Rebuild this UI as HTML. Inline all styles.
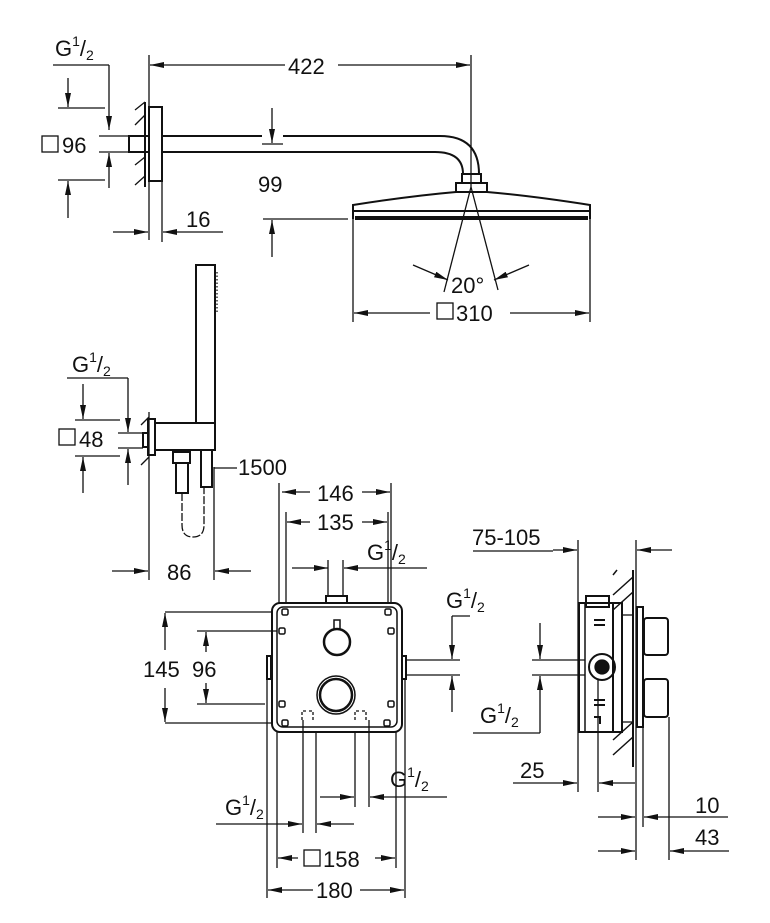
<!DOCTYPE html>
<html><head><meta charset="utf-8"><style>
html,body{margin:0;padding:0;background:#fff;}
svg{display:block;}
text{font-family:"Liberation Sans",sans-serif;font-size:22px;fill:#111;}
.s{font-size:14px;}
</style></head><body>
<svg width="770" height="923" viewBox="0 0 770 923" xmlns="http://www.w3.org/2000/svg">
<defs>
<marker id="a" viewBox="0 0 14 6" refX="14" refY="3" markerWidth="14" markerHeight="6" markerUnits="userSpaceOnUse" orient="auto"><path d="M0,0 L14,3 L0,6 z" fill="#111"/></marker>
</defs>
<g stroke="#111" fill="none" stroke-width="1.3">
<!-- ===== Head shower ===== -->
<line x1="53" y1="65" x2="109" y2="65"/>
<line x1="109" y1="65" x2="109" y2="130" marker-end="url(#a)"/>
<line x1="68" y1="78" x2="68" y2="107" marker-end="url(#a)"/>
<line x1="58" y1="108" x2="105" y2="108"/>
<line x1="99" y1="136" x2="129" y2="136"/>
<line x1="99" y1="152" x2="129" y2="152"/>
<line x1="109" y1="188" x2="109" y2="153" marker-end="url(#a)"/>
<line x1="58" y1="180" x2="105" y2="180"/>
<line x1="68" y1="218" x2="68" y2="181" marker-end="url(#a)"/>
<line x1="149" y1="55" x2="149" y2="240"/>
<line x1="162" y1="181" x2="162" y2="242"/>
<line x1="145" y1="102" x2="145" y2="187" stroke-width="2"/>
<line x1="135" y1="110" x2="145" y2="102"/><line x1="135" y1="125" x2="145" y2="115"/><line x1="135" y1="165" x2="145" y2="157"/><line x1="135" y1="185" x2="145" y2="176"/>
<rect x="149" y="107" width="13" height="74" stroke-width="2"/>
<rect x="129" y="136" width="20" height="16" stroke-width="2"/>
<path d="M162,136 H262 M283,136 H440 Q479,136 479,174" stroke-width="2"/>
<path d="M162,152 H435 Q463,152 463,174" stroke-width="2"/>
<line x1="262" y1="144" x2="283" y2="144"/>
<line x1="272" y1="108" x2="272" y2="143" marker-end="url(#a)"/>
<line x1="263" y1="219" x2="348" y2="219"/>
<line x1="272" y1="257" x2="272" y2="220" marker-end="url(#a)"/>
<rect x="462" y="174" width="19" height="9" stroke-width="2"/>
<rect x="456" y="183" width="31" height="9" stroke-width="2"/>
<path d="M456,192 Q410,196 353,205 V219 M487,192 Q533,196 590,205 V219" stroke-width="2"/>
<line x1="353" y1="211" x2="590" y2="211" stroke-width="2"/>
<line x1="355" y1="218" x2="588" y2="218" stroke-width="4"/>
<line x1="353" y1="219" x2="353" y2="322"/>
<line x1="590" y1="219" x2="590" y2="322"/>
<line x1="471" y1="55" x2="471" y2="187"/>
<line x1="471" y1="187" x2="444" y2="292"/>
<line x1="471" y1="187" x2="498" y2="290"/>
<line x1="413" y1="265" x2="448" y2="280" marker-end="url(#a)"/>
<line x1="529" y1="265" x2="494" y2="280" marker-end="url(#a)"/>
<line x1="285" y1="65" x2="150" y2="65" marker-end="url(#a)"/>
<line x1="338" y1="65" x2="470" y2="65" marker-end="url(#a)"/>
<line x1="430" y1="313" x2="354" y2="313" marker-end="url(#a)"/>
<line x1="510" y1="313" x2="589" y2="313" marker-end="url(#a)"/>
<line x1="113" y1="232" x2="148" y2="232" marker-end="url(#a)"/>
<line x1="223" y1="232" x2="163" y2="232" marker-end="url(#a)"/>
<rect x="437" y="303" width="16" height="16"/>
<rect x="42" y="136" width="16" height="16"/>
<!-- ===== Hand shower ===== -->
<rect x="196" y="265" width="19" height="158" stroke-width="2"/>
<line x1="217" y1="272" x2="217" y2="313" stroke-dasharray="1.5,2"/>
<path d="M155,423 H215 V450 H155" stroke-width="2"/>
<rect x="148" y="419" width="7" height="36" stroke-width="2"/>
<rect x="143" y="433" width="5" height="14" stroke-width="2"/>
<line x1="149" y1="412" x2="149" y2="580"/>
<line x1="141" y1="425" x2="149" y2="417"/><line x1="141" y1="465" x2="149" y2="457"/>
<rect x="173" y="452" width="17" height="11" stroke-width="2"/>
<rect x="176" y="463" width="12" height="30" stroke-width="2"/>
<rect x="201" y="450" width="11" height="37" stroke-width="2"/>
<path d="M182,493 V525 Q182,537 193,537 Q204,537 204,525 V487" stroke-dasharray="8,2"/>
<line x1="214" y1="467" x2="214" y2="580"/>
<line x1="214" y1="468" x2="237" y2="468"/>
<line x1="67" y1="378" x2="128" y2="378"/>
<line x1="128" y1="378" x2="128" y2="432" marker-end="url(#a)"/>
<line x1="83" y1="384" x2="83" y2="419" marker-end="url(#a)"/>
<line x1="75" y1="420" x2="120" y2="420"/>
<line x1="118" y1="433" x2="143" y2="433"/>
<line x1="118" y1="448" x2="143" y2="448"/>
<line x1="128" y1="485" x2="128" y2="449" marker-end="url(#a)"/>
<line x1="75" y1="456" x2="120" y2="456"/>
<line x1="83" y1="493" x2="83" y2="457" marker-end="url(#a)"/>
<rect x="59" y="429" width="16" height="16"/>
<line x1="112" y1="571" x2="148" y2="571" marker-end="url(#a)"/>
<line x1="251" y1="571" x2="215" y2="571" marker-end="url(#a)"/>
<!-- ===== Box ===== -->
<line x1="279" y1="483" x2="279" y2="603"/><line x1="391" y1="483" x2="391" y2="603"/>
<line x1="286" y1="512" x2="286" y2="603"/><line x1="388" y1="512" x2="388" y2="603"/>
<line x1="310" y1="492" x2="282" y2="492" marker-end="url(#a)"/>
<line x1="362" y1="492" x2="390" y2="492" marker-end="url(#a)"/>
<line x1="310" y1="522" x2="287" y2="522" marker-end="url(#a)"/>
<line x1="362" y1="522" x2="387" y2="522" marker-end="url(#a)"/>
<line x1="292" y1="568" x2="328" y2="568" marker-end="url(#a)"/>
<line x1="427" y1="568" x2="344" y2="568" marker-end="url(#a)"/>
<line x1="328" y1="560" x2="328" y2="596"/><line x1="343" y1="560" x2="343" y2="596"/>
<rect x="326" y="596" width="21" height="7" stroke-width="2"/>
<rect x="272" y="603" width="130" height="129" rx="8" stroke-width="2"/>
<rect x="277" y="607" width="120" height="120" rx="6" stroke-width="1.5"/>
<g stroke-width="1.5">
<rect x="282" y="609" width="6" height="6" rx="1.5"/><rect x="385" y="609" width="6" height="6" rx="1.5"/>
<rect x="279" y="628" width="6" height="6" rx="1.5"/><rect x="388" y="628" width="6" height="6" rx="1.5"/>
<rect x="279" y="701" width="6" height="6" rx="1.5"/><rect x="388" y="701" width="6" height="6" rx="1.5"/>
<rect x="282" y="720" width="6" height="6" rx="1.5"/><rect x="384" y="720" width="6" height="6" rx="1.5"/>
</g>
<circle cx="337" cy="642" r="13" stroke-width="2.5"/>
<rect x="334" y="620" width="6" height="9" stroke-width="1.5"/>
<circle cx="336" cy="695" r="19" stroke-width="1.5"/>
<circle cx="336" cy="695" r="16" stroke-width="2.5"/>
<path d="M302,720 V711 H306 M309,711 H313 V720 M355,720 V711 H359 M362,711 H366 V720" stroke-dasharray="3,2"/>
<rect x="267" y="656" width="4" height="23" stroke-width="2"/>
<rect x="402" y="656" width="4" height="23" stroke-width="2"/>
<line x1="406" y1="660" x2="460" y2="660"/><line x1="406" y1="675" x2="460" y2="675"/>
<line x1="452" y1="616" x2="470" y2="616"/>
<line x1="452" y1="616" x2="452" y2="659" marker-end="url(#a)"/>
<line x1="452" y1="712" x2="452" y2="676" marker-end="url(#a)"/>
<line x1="165" y1="612" x2="272" y2="612"/><line x1="165" y1="723" x2="272" y2="723"/>
<line x1="165" y1="650" x2="165" y2="613" marker-end="url(#a)"/>
<line x1="165" y1="688" x2="165" y2="722" marker-end="url(#a)"/>
<line x1="197" y1="631" x2="277" y2="631"/><line x1="197" y1="704" x2="265" y2="704"/>
<line x1="206" y1="652" x2="206" y2="632" marker-end="url(#a)"/>
<line x1="206" y1="683" x2="206" y2="703" marker-end="url(#a)"/>
<line x1="267" y1="680" x2="267" y2="898"/><line x1="277" y1="732" x2="277" y2="868"/>
<line x1="303" y1="720" x2="303" y2="833"/><line x1="316" y1="732" x2="316" y2="833"/>
<line x1="355" y1="732" x2="355" y2="807"/><line x1="369" y1="720" x2="369" y2="807"/>
<line x1="396" y1="732" x2="396" y2="868"/><line x1="405" y1="680" x2="405" y2="898"/>
<line x1="320" y1="797" x2="354" y2="797" marker-end="url(#a)"/>
<line x1="447" y1="797" x2="370" y2="797" marker-end="url(#a)"/>
<line x1="216" y1="824" x2="302" y2="824" marker-end="url(#a)"/>
<line x1="354" y1="824" x2="317" y2="824" marker-end="url(#a)"/>
<line x1="298" y1="858" x2="278" y2="858" marker-end="url(#a)"/>
<line x1="375" y1="858" x2="395" y2="858" marker-end="url(#a)"/>
<line x1="313" y1="890" x2="268" y2="890" marker-end="url(#a)"/>
<line x1="360" y1="890" x2="404" y2="890" marker-end="url(#a)"/>
<rect x="304" y="850" width="16" height="16"/>
<!-- ===== Side view ===== -->
<line x1="473" y1="551" x2="553" y2="551"/>
<line x1="553" y1="550" x2="577" y2="550" marker-end="url(#a)"/>
<line x1="672" y1="550" x2="637" y2="550" marker-end="url(#a)"/>
<line x1="578" y1="540" x2="578" y2="792"/>
<line x1="636" y1="540" x2="636" y2="860"/>
<line x1="633" y1="570" x2="633" y2="767" stroke-width="2"/>
<g stroke-width="1.5">
<line x1="613" y1="595" x2="633" y2="577"/><line x1="613" y1="610" x2="633" y2="592"/>
<line x1="613" y1="740" x2="633" y2="722"/><line x1="613" y1="755" x2="633" y2="737"/>
<line x1="613" y1="575" x2="617" y2="570"/>
</g>
<rect x="579" y="603" width="34" height="129" stroke-width="2"/>
<line x1="585" y1="603" x2="585" y2="732" stroke-width="1.5"/>
<rect x="586" y="596" width="23" height="11" stroke-width="2"/>
<rect x="613" y="603" width="9" height="129" stroke-width="2"/>
<line x1="622" y1="615" x2="633" y2="615"/><line x1="622" y1="722" x2="633" y2="722"/>
<rect x="637" y="607" width="6" height="120" stroke-width="2"/>
<rect x="644" y="618" width="24" height="37" rx="3" stroke-width="2"/>
<rect x="644" y="679" width="24" height="38" rx="3" stroke-width="2"/>
<path d="M594,620 H605 M594,625 H605 M594,700 H605 M594,705 H605 M594,717 H600 V724" stroke-width="2"/>
<circle cx="602" cy="667" r="13" stroke-width="2"/>
<circle cx="602" cy="667" r="7" fill="#111"/>
<line x1="532" y1="660" x2="585" y2="660"/><line x1="532" y1="675" x2="585" y2="675"/>
<line x1="540" y1="623" x2="540" y2="659" marker-end="url(#a)"/>
<line x1="540" y1="733" x2="540" y2="676" marker-end="url(#a)"/>
<line x1="473" y1="733" x2="540" y2="733"/>
<line x1="598" y1="680" x2="598" y2="792"/>
<line x1="643" y1="727" x2="643" y2="827"/>
<line x1="669" y1="717" x2="669" y2="860"/>
<line x1="513" y1="783" x2="577" y2="783" marker-end="url(#a)"/>
<line x1="635" y1="783" x2="599" y2="783" marker-end="url(#a)"/>
<line x1="598" y1="817" x2="635" y2="817" marker-end="url(#a)"/>
<line x1="728" y1="817" x2="644" y2="817" marker-end="url(#a)"/>
<line x1="598" y1="851" x2="635" y2="851" marker-end="url(#a)"/>
<line x1="729" y1="851" x2="670" y2="851" marker-end="url(#a)"/>
</g>
<!-- text -->
<text x="55" y="56">G<tspan class="s" dy="-10">1</tspan><tspan dy="10">/</tspan><tspan class="s" dy="4">2</tspan></text>
<text x="62" y="153">96</text>
<text x="288" y="74">422</text>
<text x="258" y="192">99</text>
<text x="186" y="227">16</text>
<text x="451" y="293">20°</text>
<text x="456" y="321">310</text>
<text x="72" y="372">G<tspan class="s" dy="-10">1</tspan><tspan dy="10">/</tspan><tspan class="s" dy="4">2</tspan></text>
<text x="79" y="447">48</text>
<text x="238" y="475">1500</text>
<text x="167" y="580">86</text>
<text x="317" y="501">146</text>
<text x="317" y="530">135</text>
<text x="367" y="560">G<tspan class="s" dy="-10">1</tspan><tspan dy="10">/</tspan><tspan class="s" dy="4">2</tspan></text>
<text x="472" y="545">75-105</text>
<text x="446" y="608">G<tspan class="s" dy="-10">1</tspan><tspan dy="10">/</tspan><tspan class="s" dy="4">2</tspan></text>
<text x="143" y="677">145</text>
<text x="192" y="677">96</text>
<text x="480" y="723">G<tspan class="s" dy="-10">1</tspan><tspan dy="10">/</tspan><tspan class="s" dy="4">2</tspan></text>
<text x="390" y="787">G<tspan class="s" dy="-10">1</tspan><tspan dy="10">/</tspan><tspan class="s" dy="4">2</tspan></text>
<text x="225" y="815">G<tspan class="s" dy="-10">1</tspan><tspan dy="10">/</tspan><tspan class="s" dy="4">2</tspan></text>
<text x="323" y="867">158</text>
<text x="316" y="898">180</text>
<text x="520" y="778">25</text>
<text x="695" y="813">10</text>
<text x="695" y="845">43</text>
</svg>
</body></html>
